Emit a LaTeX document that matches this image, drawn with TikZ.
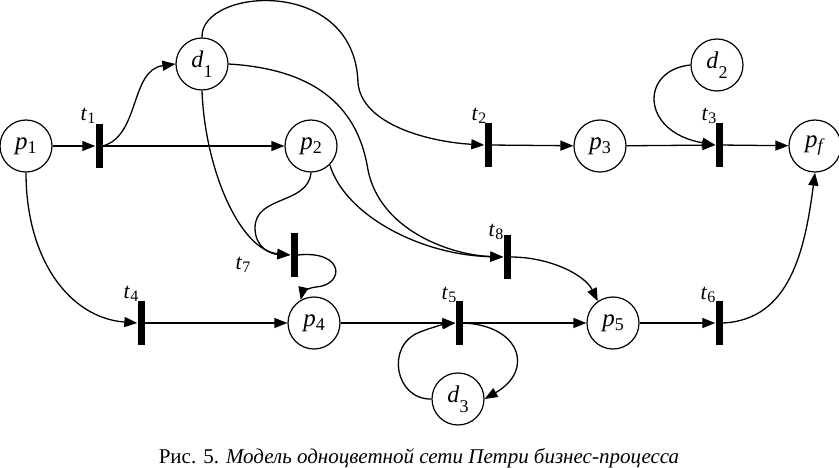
\documentclass[tikz,border=0pt]{standalone}
\usepackage{fontspec}
\setmainfont{Liberation Serif}
\usetikzlibrary{arrows.meta}
\tikzset{
 place/.style={circle,draw,line width=1.2pt,minimum size=52pt,inner sep=0pt},
 trans/.style={rectangle,fill=black,minimum width=7pt,minimum height=44pt,inner sep=0pt},
 arc/.style={line width=1.3pt,-{Triangle[length=13pt,width=10pt]}},
 tlab/.style={inner sep=0pt,font=\fontsize{22}{22}\selectfont},
 caption/.style={inner sep=0pt,font=\fontsize{21}{23}\selectfont},
}
\newcommand{\plab}[2]{\fontsize{25}{25}\selectfont\textit{#1}\raisebox{-4pt}{\fontsize{18}{18}\selectfont #2}}
\newcommand{\dlab}[2]{\fontsize{24}{24}\selectfont\textit{#1}\raisebox{-10pt}{\fontsize{18}{18}\selectfont #2}}
\newcommand{\tname}[1]{\textit{t}\raisebox{-3pt}{\fontsize{16}{16}\selectfont #1}}
\begin{document}
\begin{tikzpicture}[x=1pt,y=-1pt]
\useasboundingbox (0,0) rectangle (839,468);
% places
\node[place] (p1) at (26,146) {\plab{p}{1}};
\node[place] (d1) at (202,64) {\dlab{d}{1}};
\node[place] (p2) at (311,146) {\plab{p}{2}};
\node[place] (p3) at (600,146) {\plab{p}{3}};
\node[place] (d2) at (717,65) {\dlab{d}{2}};
\node[place] (pf) at (815,146) {\plab{p}{\textit{f}}};
\node[place] (p4) at (314,323) {\plab{p}{4}};
\node[place] (p5) at (613,323) {\plab{p}{5}};
\node[place] (d3) at (458,399) {\dlab{d}{3}};
% transitions
\node[trans] (t1) at (99,146) {};
\node[trans] (t2) at (488,145) {};
\node[trans] (t3) at (719,145) {};
\node[trans] (t7) at (294,255) {};
\node[trans] (t8) at (507,257) {};
\node[trans] (t4) at (141,323) {};
\node[trans] (t5) at (459,323) {};
\node[trans] (t6) at (719,323) {};
% transition labels
\node[tlab] (l1) at (88,116) {\tname{1}};
\node[tlab] (l2) at (479,116) {\tname{2}};
\node[tlab] (l3) at (709,116) {\tname{3}};
\node[tlab] (l4) at (131,294) {\tname{4}};
\node[tlab] (l5) at (449,295) {\tname{5}};
\node[tlab] (l6) at (708,295) {\tname{6}};
\node[tlab] (l7) at (243,265) {\tname{7}};
\node[tlab] (l8) at (496,232) {\tname{8}};
% straight arcs
\draw[arc] (p1) -- (t1);
\draw[arc] (t1) -- (p2);
\draw[arc] (t2) -- (p3);
\draw[arc] (p3) -- (t3);
\draw[arc] (t3) -- (pf);
\draw[arc] (t4) -- (p4);
\draw[arc] (p4) -- (t5);
\draw[arc] (t5) -- (p5);
\draw[arc] (p5) -- (t6);
% curved arcs
\draw[arc] (t1.east) .. controls (140,136) and (130,70) .. (d1.west);
\draw[arc] (d1.north) .. controls (200,-12) and (355,-25) .. (358,83) .. controls (362,125) and (430,142) .. (t2.west);
\draw[arc] (d1.east) .. controls (330,70) and (360,120) .. (368,170) .. controls (380,230) and (450,255) .. (t8.west);
\draw[arc] (p2.-45) .. controls (345,215) and (420,255) .. (t8.west);
\draw[arc] (d1.south) .. controls (205,170) and (240,250) .. (t7.west);
\draw[arc] (p2.south) .. controls (308,205) and (255,195) .. (255,228) .. controls (255,247) and (270,254) .. (t7.west);
\draw[arc] (t7.east) .. controls (345,250) and (345,285) .. (316,287) .. controls (306,288) and (302,294) .. (p4.120);
\draw[arc] (d2.west) .. controls (640,70) and (640,132) .. (t3.west);
\draw[arc] (p1.south) .. controls (26,260) and (70,318) .. (t4.west);
\draw[arc] (t6.east) .. controls (790,320) and (805,250) .. (pf.south);
\draw[arc] (t8.east) .. controls (550,257) and (585,275) .. (p5.125);
\draw[arc] (d3.west) .. controls (395,400) and (385,345) .. (420,332) .. controls (430,328) and (445,324) .. (t5.west);
\draw[arc] (t5.east) .. controls (520,325) and (535,370) .. (d3.east);
% caption
\node[caption,anchor=base] (cap) at (419,463) {Рис. 5. \textit{Модель одноцветной сети Петри бизнес-процесса}};
\end{tikzpicture}
\end{document}
